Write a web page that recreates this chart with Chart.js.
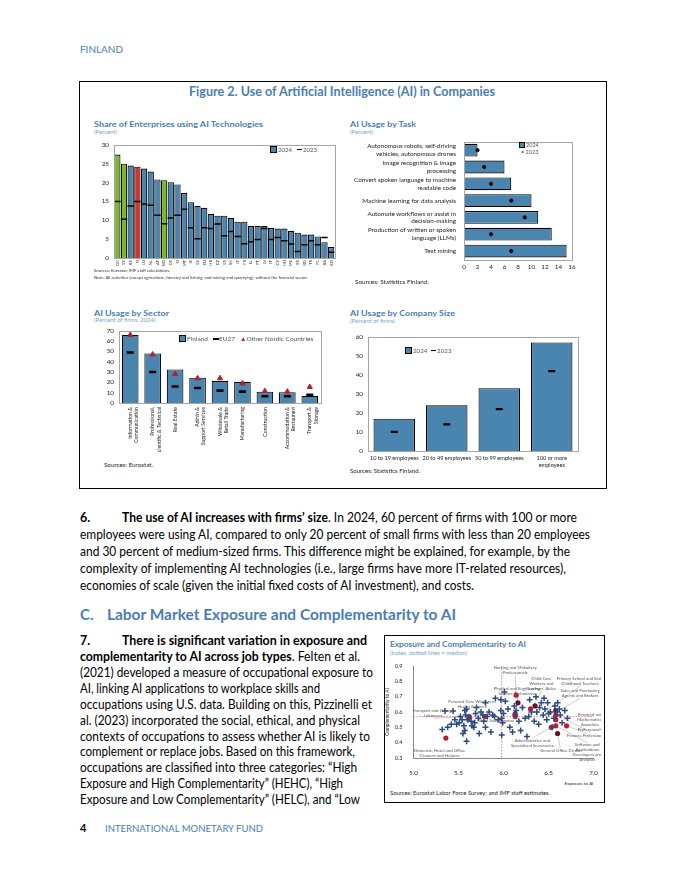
<!DOCTYPE html>
<html><head><meta charset="utf-8">
<script src="https://cdn.jsdelivr.net/npm/chart.js@4.4.1/dist/chart.umd.min.js"></script>
<style>
body{margin:0;width:680px;height:880px;background:#fff;position:relative;overflow:hidden;font-family:Lato,'Open Sans',sans-serif;color:#000}
.a{position:absolute;white-space:nowrap;line-height:1}
.blue{color:#4a7db3}
.ct{font-weight:700;font-size:8px;color:#4a7db3}
.cs{font-size:6px;color:#7aa3cc}
.src{font-size:6.3px;color:#222}
.p{font-size:12.5px;line-height:14px}
.leg{font-size:6px;color:#555}
.sw{display:inline-block;width:5px;height:5px;background:#4a85b0;border:1px solid #000;vertical-align:-1px;margin-right:1px}
canvas{position:absolute}
</style></head><body>

<div class="a blue" style="left:80px;top:44px;font-size:10px" data-w="43">FINLAND</div>

<div style="position:absolute;left:79px;top:81px;width:526px;height:406px;border:1px solid #000"></div>
<div class="a" style="left:189px;top:86px;font-size:12.5px;font-weight:700;color:#4a7db3" data-w="306">Figure 2. Use of Artificial Intelligence (AI) in Companies</div>

<div class="a ct" style="left:94px;top:120px" data-w="169">Share of Enterprises using AI Technologies</div>
<div class="a cs" style="left:94px;top:129px">(Percent)</div>
<div class="a ct" style="left:350px;top:120px" data-w="66">AI Usage by Task</div>
<div class="a cs" style="left:350px;top:129px">(Percent)</div>
<div class="a ct" style="left:94px;top:309px" data-w="75">AI Usage by Sector</div>
<div class="a cs" style="left:94px;top:317px">(Percent of firms, 2024)</div>
<div class="a ct" style="left:350px;top:309px" data-w="105">AI Usage by Company Size</div>
<div class="a cs" style="left:350px;top:318px">(Percent of firms)</div>

<canvas id="c1" width="252" height="134" style="left:88px;top:136px;width:252px;height:134px"></canvas>
<canvas id="c2" width="250" height="145" style="left:340px;top:130px;width:250px;height:145px"></canvas>
<canvas id="c3" width="240" height="130" style="left:88px;top:322px;width:240px;height:130px"></canvas>
<canvas id="c4" width="240" height="141" style="left:345px;top:328px;width:240px;height:141px"></canvas>

<div class="a leg" style="left:270px;top:146px"><span class="sw"></span>2024 &nbsp;&nbsp;<b style="display:inline-block;width:5px;height:1.5px;background:#000;vertical-align:2px"></b> 2023</div>
<div class="a" style="left:94px;top:269px;font-size:4.3px;color:#333">Sources: Eurostat; IMF staff calculations.</div>
<div class="a" style="left:94px;top:276px;font-size:4.3px;color:#333">Note: All activities (except agriculture, forestry and fishing, and mining and quarrying), without the financial sector.</div>

<div class="a leg" style="left:519px;top:142px;font-size:5.5px"><span class="sw" style="width:4px;height:4px"></span>2024</div>
<div class="a leg" style="left:521px;top:150px;font-size:5.5px">•&nbsp;2023</div>
<div class="a src" style="left:355px;top:279px" data-w="74">Sources: Statistics Finland.</div>

<div class="a leg" style="left:179px;top:335px;font-size:6.5px"><span class="sw"></span>Finland &nbsp;&nbsp;<b style="display:inline-block;width:6px;height:2.5px;background:#000;vertical-align:1px"></b>EU27 &nbsp;&nbsp;<span style="color:#b3202f">▲</span>Other Nordic Countries</div>
<div class="a src" style="left:104px;top:462px" data-w="49">Sources: Eurostat.</div>

<div class="a leg" style="left:405px;top:347px;font-size:6.2px"><span class="sw"></span>2024 &nbsp;<b style="display:inline-block;width:5px;height:1.5px;background:#000;vertical-align:2px"></b> 2023</div>
<div class="a src" style="left:350px;top:468px" data-w="70">Sources: Statistics Finland.</div>

<div class="a p" style="left:80px;top:511px;font-weight:700">6.</div>
<div class="a p" style="left:122px;top:511px" data-w="455"><b>The use of AI increases with firms’ size</b>. In 2024, 60 percent of firms with 100 or more</div>
<div class="a p" style="left:80px;top:528px" data-w="510">employees were using AI, compared to only 20 percent of small firms with less than 20 employees</div>
<div class="a p" style="left:80px;top:545px" data-w="490">and 30 percent of medium-sized firms. This difference might be explained, for example, by the</div>
<div class="a p" style="left:80px;top:562px" data-w="486">complexity of implementing AI technologies (i.e., large firms have more IT-related resources),</div>
<div class="a p" style="left:80px;top:579px" data-w="394">economies of scale (given the initial fixed costs of AI investment), and costs.</div>

<div class="a blue" style="left:80px;top:607px;font-size:15px;font-weight:700">C.</div>
<div class="a blue" style="left:107px;top:607px;font-size:15px;font-weight:700" data-w="349">Labor Market Exposure and Complementarity to AI</div>

<div class="a p" style="left:80px;top:634px;font-weight:700">7.</div>
<div class="a p" style="left:122px;top:634px;font-weight:700" data-w="245">There is significant variation in exposure and</div>
<div class="a p" style="left:80px;top:650px" data-w="280"><b>complementarity to AI across job types</b>. Felten et al.</div>
<div class="a p" style="left:80px;top:666px" data-w="293">(2021) developed a measure of occupational exposure to</div>
<div class="a p" style="left:80px;top:682px" data-w="240">AI, linking AI applications to workplace skills and</div>
<div class="a p" style="left:80px;top:698px" data-w="292">occupations using U.S. data. Building on this, Pizzinelli et</div>
<div class="a p" style="left:80px;top:714px" data-w="280">al. (2023) incorporated the social, ethical, and physical</div>
<div class="a p" style="left:80px;top:730px" data-w="290">contexts of occupations to assess whether AI is likely to</div>
<div class="a p" style="left:80px;top:745px" data-w="275">complement or replace jobs. Based on this framework,</div>
<div class="a p" style="left:80px;top:761px" data-w="277">occupations are classified into three categories: “High</div>
<div class="a p" style="left:80px;top:777px" data-w="263">Exposure and High Complementarity” (HEHC), “High</div>
<div class="a p" style="left:80px;top:793px" data-w="280">Exposure and Low Complementarity” (HELC), and “Low</div>

<div style="position:absolute;left:384px;top:635px;width:219px;height:166px;border:1px solid #000"></div>
<div class="a ct" style="left:390px;top:641px;font-size:7.5px" data-w="136">Exposure and Complementarity to AI</div>
<div class="a cs" style="left:390px;top:650px" data-w="77">(Index, dotted lines = median)</div>
<canvas id="c5" width="216" height="128" style="left:385px;top:658px;width:216px;height:128px"></canvas>
<div class="a src" style="left:390px;top:790px" data-w="160">Sources: Eurostat Labor Force Survey; and IMF staff estimates.</div>

<div class="a" style="left:80px;top:822px;font-size:11px;font-weight:700">4</div>
<div class="a blue" style="left:105px;top:823px;font-size:10px" data-w="158">INTERNATIONAL MONETARY FUND</div>

<script>
// ---------- DATA ----------
const countries = ['DK','SE','BE','FI','LU','NL','AT','NO','DE','SI','MT','IE','EE','EU','HR','CZ','ES','SK','LT','FR','EL','PT','LV','IT','CY','HU','ME','RS','BG','TR','PL','BA','RO'];
const share2024 = [27.4,25.0,24.5,24.2,23.7,22.9,20.8,20.6,20.1,19.5,17.2,14.8,13.8,13.3,11.7,11.2,11.2,10.6,9.6,9.6,8.5,8.5,8.5,8.0,7.8,7.8,7.2,6.7,6.2,6.2,5.7,4.2,2.9];
const share2023 = [15.0,10.3,13.8,15.0,14.3,14.0,11.3,9.1,10.6,11.3,12.9,8.0,5.1,8.0,7.8,9.0,5.9,7.0,5.7,3.8,4.3,4.9,7.8,4.9,5.4,4.6,3.7,1.7,3.5,4.6,3.5,5.4,1.5];
const nordic = ['DK','SE','NO'];
const highlight = ['FI'];

const tasks = [['Autonomous robots, self-driving','vehicles, autonomous drones'],['Image recognition & image','processing'],['Convert spoken language to machine','readable code'],'Machine learning for data analysis',['Automate workflows or assist in','decision-making'],['Production of written or spoken','language (LLMs)'],'Text mining'];
const task2024 = [2.0,6.0,7.0,10.0,11.0,13.0,15.2];
const task2023 = [2.0,3.0,4.0,7.0,9.0,4.0,7.0];

const sectors = [['Information &','Communication'],['Professional,','Scientific & Technical'],'Real Estate',['Admin &','Support Services'],['Wholesale &','Retail Trade'],'Manufacturing','Construction',['Accommodation &','Restaurant'],['Transport &','Storage']];
const sectorFinland = [66,48,32.5,24.5,21.5,20.5,11,10.5,7];
const sectorEU27 = [49,30,16,14.5,12,11,6.5,6.5,8];
const sectorNordic = [66,47,28,24,24,19,11.5,11,15.5];

const sizes = ['10 to 19 employees','20 to 49 employees','50 to 99 employees',['100 or more','employees']];
const size2024 = [17,24,33,57];
const size2023 = [10,14,22,42];

const occExposure = [5.35,5.44,5.32,5.38,5.46,5.48,5.51,5.57,5.59,5.58,5.54,5.56,5.57,5.55,5.59,5.62,5.64,5.65,5.67,5.69,5.70,5.72,5.73,5.75,5.77,5.78,5.80,5.80,5.82,5.84,5.86,5.90,5.91,5.97,5.98,5.99,6.00,5.98,6.01,6.02,5.97,6.07,6.12,6.13,6.14,6.17,6.19,6.21,6.24,6.26,6.29,6.31,6.34,6.36,6.37,6.39,6.42,6.44,6.45,6.46,6.48,6.49,6.52,6.54,6.56,6.57,6.59,6.60,6.63,6.65,6.68,6.71,5.42,5.52,5.60,5.68,5.88,5.94,6.05,6.10,6.28,6.40,6.50,6.62];
const occComplement = [0.607,0.607,0.486,0.50,0.55,0.52,0.53,0.61,0.62,0.58,0.55,0.51,0.48,0.46,0.41,0.56,0.54,0.51,0.50,0.59,0.63,0.56,0.46,0.60,0.58,0.54,0.50,0.66,0.57,0.60,0.47,0.57,0.69,0.61,0.56,0.53,0.59,0.45,0.73,0.67,0.68,0.50,0.64,0.58,0.61,0.54,0.48,0.63,0.56,0.44,0.68,0.60,0.54,0.70,0.60,0.52,0.66,0.58,0.69,0.62,0.55,0.66,0.60,0.50,0.56,0.64,0.60,0.66,0.58,0.53,0.61,0.56,0.52,0.57,0.55,0.53,0.58,0.55,0.62,0.47,0.57,0.63,0.59,0.62];
const keyExposure = [5.36,5.62,5.80,6.14,6.13,6.13,6.30,6.53,6.58,6.58,6.70,6.58];
const keyComplement = [0.43,0.57,0.57,0.71,0.59,0.57,0.62,0.50,0.58,0.55,0.51,0.51];
const darkExposure = [6.16,6.35,6.58,6.60];
const darkComplement = [0.66,0.64,0.61,0.46];
const medianExposure = 5.98;
const medianComplement = 0.57;

// ---------- STYLE ----------
const BLUE='#4a85b0', GREEN='#7ab929', RED='#d9302a', TRI='#b3202f';
Chart.defaults.font.family = "Lato, 'Open Sans', sans-serif";
Chart.defaults.color = '#222';
Chart.defaults.animation = false;
Chart.defaults.responsive = false;
Chart.defaults.plugins.legend.display = false;
Chart.defaults.plugins.tooltip.enabled = false;

const frame = {id:'frame', afterDatasetsDraw(c){const a=c.chartArea,x=c.ctx;x.save();x.strokeStyle='#a6a6a6';x.lineWidth=1;x.strokeRect(Math.round(a.left)+0.5,Math.round(a.top)+0.5,Math.round(a.right-a.left),Math.round(a.bottom-a.top));x.restore();}};
const W = w => s => { s.width = w; };
const H = h => s => { s.height = h; };
const noGrid = {display:false, drawTicks:false};

// Chart 1
new Chart(document.getElementById('c1'), {
  type:'bar',
  data:{labels:countries, datasets:[
    {type:'line', data:share2023, showLine:false, pointStyle:'line', pointRadius:3.2, pointBorderWidth:1.5, borderColor:'#000', backgroundColor:'#000', order:0},
    {type:'bar', data:share2024, backgroundColor:countries.map(c=>nordic.includes(c)?GREEN:highlight.includes(c)?RED:BLUE), borderColor:'#000', borderWidth:1.1, barPercentage:1, categoryPercentage:0.94, order:1}
  ]},
  options:{layout:{padding:{top:6,right:3}},
    scales:{
      x:{grid:noGrid, border:{display:false}, ticks:{font:{size:4.2}, maxRotation:90, minRotation:90, autoSkip:false, padding:2}, afterFit:H(12)},
      y:{min:0,max:30, grid:noGrid, border:{display:false}, ticks:{stepSize:5, font:{size:6.3}, padding:5, autoSkip:false}, afterFit:W(26)}
    }},
  plugins:[frame]
});

// Chart 2
new Chart(document.getElementById('c2'), {
  type:'bar',
  data:{labels:tasks, datasets:[
    {type:'line', indexAxis:'y', data:task2023, showLine:false, pointStyle:'circle', pointRadius:1.6, borderColor:'#000', backgroundColor:'#000', order:0},
    {type:'bar', data:task2024, backgroundColor:BLUE, borderColor:'#000', borderWidth:1.1, barPercentage:0.76, categoryPercentage:1, order:1}
  ]},
  options:{indexAxis:'y', layout:{padding:{top:0,right:18}},
    scales:{
      y:{grid:noGrid, border:{display:false}, ticks:{font:{size:6.3}, padding:8, autoSkip:false}, afterFit:W(124)},
      x:{min:0,max:16, grid:noGrid, border:{display:false}, ticks:{stepSize:2, font:{size:6.3}, padding:4, maxRotation:0, autoSkip:false}, afterFit:H(14)}
    }},
  plugins:[frame]
});

// Chart 3
new Chart(document.getElementById('c3'), {
  type:'bar',
  data:{labels:sectors, datasets:[
    {type:'line', data:sectorNordic, showLine:false, pointStyle:'triangle', pointRadius:3, borderColor:TRI, backgroundColor:TRI, order:0},
    {type:'line', data:sectorEU27, showLine:false, pointStyle:'line', pointRadius:3.5, pointBorderWidth:2.6, borderColor:'#000', backgroundColor:'#000', order:0.5},
    {type:'bar', data:sectorFinland, backgroundColor:BLUE, borderColor:'#000', borderWidth:1.1, barPercentage:0.74, categoryPercentage:1, order:1}
  ]},
  options:{layout:{padding:{top:5,right:7}},
    scales:{
      x:{grid:noGrid, border:{display:false}, ticks:{font:{size:5.2}, maxRotation:90, minRotation:90, autoSkip:false, padding:4}, afterFit:H(49)},
      y:{min:0,max:70, grid:noGrid, border:{display:false}, ticks:{stepSize:10, font:{size:6.3}, padding:5, autoSkip:false}, afterFit:W(31)}
    }},
  plugins:[frame]
});

// Chart 4
new Chart(document.getElementById('c4'), {
  type:'bar',
  data:{labels:sizes, datasets:[
    {type:'line', data:size2023, showLine:false, pointStyle:'line', pointRadius:3.5, pointBorderWidth:2.2, borderColor:'#000', backgroundColor:'#000', order:0},
    {type:'bar', data:size2024, backgroundColor:BLUE, borderColor:'#000', borderWidth:1.1, barPercentage:0.79, categoryPercentage:1, order:1}
  ]},
  options:{layout:{padding:{top:4,right:7}},
    scales:{
      x:{grid:noGrid, border:{display:false}, ticks:{font:{size:5.6}, maxRotation:0, autoSkip:false, padding:4}, afterFit:H(18)},
      y:{min:0,max:60, grid:noGrid, border:{display:false}, ticks:{stepSize:10, font:{size:6.3}, padding:5, autoSkip:false}, afterFit:W(23)}
    }},
  plugins:[frame]
});

// Chart 5 annotations (data coordinates)
const notes = [
  {t:['Nursing and Midwifery','Professionals'], at:[6.13,0.905], to:[6.14,0.71]},
  {t:['Child Care','Workers and',"Teachers' Aides"], at:[6.42,0.835], to:[6.33,0.64]},
  {t:['Physical and Engineering','Science Technicians'], at:[6.15,0.765], to:[6.16,0.66]},
  {t:['Primary School and Early','Childhood Teachers'], at:[6.85,0.835], to:[6.45,0.60]},
  {t:['Sales and Purchasing','Agents and Brokers'], at:[6.85,0.755], to:[6.62,0.61]},
  {t:['Personal Care Workers in','Health Services'], at:[5.65,0.68], to:[5.80,0.57]},
  {t:['Transport and Storage','Labourers'], at:[5.22,0.625], to:[5.62,0.57]},
  {t:['Shop Salespersons'], at:[5.92,0.555], to:null},
  {t:['Financial and','Mathematical','Associate','Professionals'], at:[6.96,0.60], to:[6.60,0.58]},
  {t:['Finance Professionals'], at:[6.93,0.46], to:[6.70,0.51]},
  {t:['Software and','Applications','Developers and','Analysts'], at:[6.93,0.40], to:[6.58,0.51]},
  {t:['Administrative and','Specialised Secretaries'], at:[6.32,0.43], to:[6.53,0.50]},
  {t:['General Office Clerks'], at:[6.63,0.365], to:[6.60,0.46]},
  {t:['Domestic, Hotel and Office','Cleaners and Helpers'], at:[5.29,0.36], to:null}
];
const annot = {id:'annot',
  beforeDatasetsDraw(c){const x=c.scales.x,y=c.scales.y,g=c.ctx,a=c.chartArea;g.save();g.strokeStyle='#e06060';g.lineWidth=0.8;g.setLineDash([1.5,1.5]);
    const mx=x.getPixelForValue(medianExposure),my=y.getPixelForValue(medianComplement);
    g.beginPath();g.moveTo(mx,a.top);g.lineTo(mx,a.bottom);g.moveTo(a.left,my);g.lineTo(a.right,my);g.stroke();g.setLineDash([]);
    g.strokeStyle='#9a9a9a';g.lineWidth=0.5;
    notes.forEach(n=>{if(!n.to)return;g.beginPath();g.moveTo(x.getPixelForValue(n.at[0]),y.getPixelForValue(n.at[1])+ (n.at[1]>n.to[1]?n.t.length*5:0));g.lineTo(x.getPixelForValue(n.to[0]),y.getPixelForValue(n.to[1]));g.stroke();});
    g.restore();},
  afterDatasetsDraw(c){const x=c.scales.x,y=c.scales.y,g=c.ctx;g.save();g.font="4.3px Lato, sans-serif";g.fillStyle='#555';g.textAlign='center';g.textBaseline='top';
    notes.forEach(n=>{const px=x.getPixelForValue(n.at[0]),py=y.getPixelForValue(n.at[1]);n.t.forEach((s,i)=>g.fillText(s,px,py+i*5));});g.restore();}
};
new Chart(document.getElementById('c5'), {
  type:'scatter',
  data:{datasets:[
    {data:occExposure.map((v,i)=>({x:v,y:occComplement[i]})), pointStyle:'cross', pointRadius:3, borderColor:'#2b4a80', borderWidth:1.5},
    {data:keyExposure.map((v,i)=>({x:v,y:keyComplement[i]})), pointStyle:'circle', pointRadius:2.6, borderColor:'#c4182c', backgroundColor:'#c4182c', borderWidth:0},
    {data:darkExposure.map((v,i)=>({x:v,y:darkComplement[i]})), pointStyle:'circle', pointRadius:2.6, borderColor:'#6a0f1f', backgroundColor:'#6a0f1f', borderWidth:0}
  ]},
  options:{layout:{padding:{top:8,right:7}},
    scales:{
      x:{min:5,max:7, grid:{display:false}, border:{color:'#888'}, ticks:{stepSize:0.5, font:{size:6.3}, padding:3, maxRotation:0, callback:v=>v.toFixed(1)},
         title:{display:true, text:'Exposure to AI', align:'end', font:{size:4.5}, padding:{top:1,bottom:0}}},
      y:{min:0.3,max:0.9, grid:{display:false}, border:{color:'#888'}, ticks:{stepSize:0.1, font:{size:5.5}, padding:3, autoSkip:false, callback:v=>v.toFixed(1)},
         title:{display:true, text:'Complementarity to AI', font:{size:4.8}, padding:{top:0,bottom:1}}}
    }},
  plugins:[annot]
});

// fit text widths
document.querySelectorAll('[data-w]').forEach(el=>{const w=el.getBoundingClientRect().width;el.style.transformOrigin='0 0';el.style.transform='scaleX('+(+el.dataset.w/w)+')';});
</script>
</body></html>
